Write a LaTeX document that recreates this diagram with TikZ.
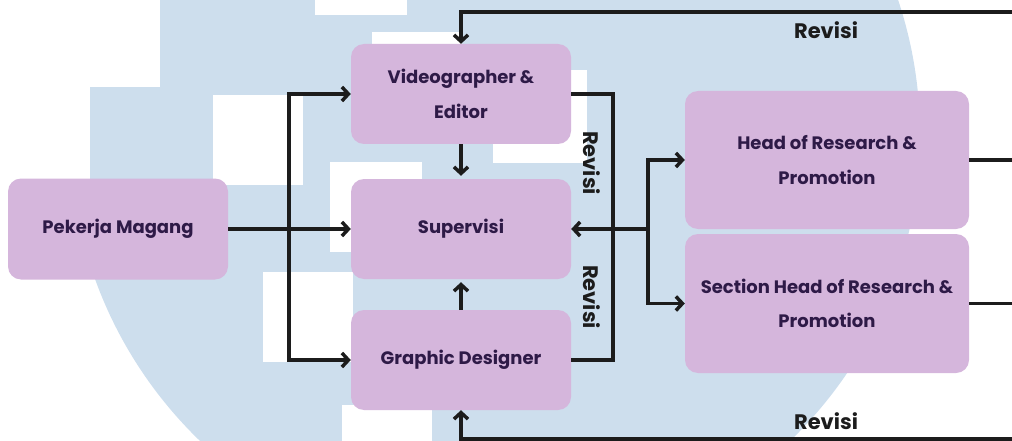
\documentclass[tikz,border=0pt]{standalone}
\usepackage{fontspec}
\setmainfont{Poppins}
\usetikzlibrary{arrows.meta}
\definecolor{wm}{RGB}{205,222,237}
\definecolor{boxfill}{RGB}{213,182,220}
\definecolor{boxtext}{RGB}{46,26,71}
\definecolor{ln}{RGB}{28,28,28}
\begin{document}
\begin{tikzpicture}[x=1pt,y=-1pt,
  box/.style={fill=boxfill, rounded corners=13pt, text=boxtext,
    font=\bfseries\fontsize{18}{34.5}\selectfont, align=center, inner sep=0pt},
  conn/.style={draw=ln, line width=3.5pt, -{Straight Barb[length=6.5pt,width=14pt]}},
  plain/.style={draw=ln, line width=3.5pt},
  rev/.style={font=\bfseries\fontsize{21}{24}\selectfont, text=ln, inner sep=0pt}]
\useasboundingbox (0,0) rectangle (1012,441);
% watermark
\begin{scope}
  \clip (90,0) rectangle (1012,441);
  \fill[wm] (495,135) circle (425pt);
\end{scope}
\fill[white] (90,0) rectangle (160,87);
\fill[white] (315,0) rectangle (407,15);
\fill[white] (372,32) rectangle (462,122);
\fill[white] (213,95) rectangle (303,185);
\fill[white] (493,70) rectangle (587,163);
\fill[white] (330,162) rectangle (422,252);
\fill[white] (263,272) rectangle (353,362);
\fill[white] (342,405) rectangle (432,441);
% boxes
\node[box, minimum width=220pt, minimum height=101pt] (pm) at (118,229) {Pekerja Magang};
\node[box, minimum width=220pt, minimum height=100pt] (vid) at (461,94) {Videographer \&\\Editor};
\node[box, minimum width=220pt, minimum height=100pt] (sup) at (461,229) {Supervisi};
\node[box, minimum width=220pt, minimum height=100pt] (gd) at (461,360) {Graphic Designer};
\node[box, minimum width=284pt, minimum height=138pt] (head) at (827,160) {Head of Research \&\\Promotion};
\node[box, minimum width=284pt, minimum height=139pt] (sec) at (827,303.5) {Section Head of Research \&\\Promotion};
% coordinates
\coordinate (bx) at (289,229);
\coordinate (hj) at (648,229);
\coordinate (tr) at (1012,12);
\coordinate (br) at (1012,439);
\coordinate (hr) at (1012,160);
\coordinate (sr) at (1012,303.5);
% connectors
\draw[plain] (pm.east) -- (bx);
\draw[conn] (bx) -- (sup.west);
\draw[conn] (bx) |- (vid.west);
\draw[conn] (bx) |- (gd.west);
\draw[conn, shorten >=3pt] (vid.south) -- (sup.north);
\draw[conn, shorten >=3pt] (gd.north) -- (sup.south);
\draw[plain] (vid.east) -- ++(42,0) |- (gd.east);
\draw[conn] (hj) -- (sup.east);
\draw[conn] (hj) |- (head.west);
\draw[conn] (hj) |- (sec.west);
\draw[conn] (tr) -| (vid.north);
\draw[conn] (br) -| (gd.south);
\draw[plain] (head.east) -- (hr);
\draw[plain] (sec.east) -- (sr);
% labels
\node[rev] (rt) at (826,30) {Revisi};
\node[rev] (rb) at (826,421) {Revisi};
\node[rev, rotate=-90] (r1) at (592,163) {Revisi};
\node[rev, rotate=-90] (r2) at (592,297) {Revisi};
\end{tikzpicture}
\end{document}
